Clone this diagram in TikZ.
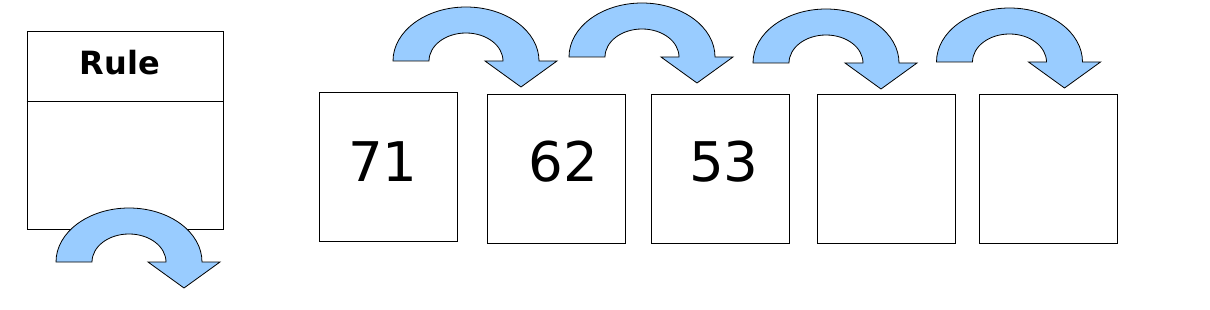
\documentclass[tikz,border=0pt]{standalone}
\usepackage{fontspec}
\setmainfont{DejaVu Sans}
\definecolor{ArrowBlue}{HTML}{99CCFF}
\tikzset{
  cellbox/.style={draw=black, line width=0.75pt, minimum width=103.5pt,
                  minimum height=111pt, inner sep=0pt},
  rulebox/.style={draw=black, line width=0.75pt, minimum width=147pt,
                  minimum height=147.75pt, inner sep=0pt},
  numtext/.style={font=\fontsize{41}{41}\selectfont, inner sep=0pt},
  ruletext/.style={font=\fontsize{24}{24}\selectfont\bfseries, inner sep=0pt},
  bendarrow/.pic={
    \filldraw[draw=black, fill=ArrowBlue, line width=0.6pt, line join=miter]
      (-73,0) arc[start angle=180, end angle=360, x radius=73, y radius=54]
      -- (91,0) -- (55,26) -- (19,0) -- (37,0)
      arc[start angle=360, end angle=180, x radius=37, y radius=28] -- cycle;
  }
}

\begin{document}
\begin{tikzpicture}[x=0.75pt, y=-0.75pt]
\useasboundingbox (0,0) rectangle (1210,310);
\node[rulebox] (rule) at (125,130.5) {};
\draw[line width=0.75pt] ([yshift=-52.5pt]rule.north west) -- ([yshift=-52.5pt]rule.north east);
\node[ruletext] (ruletitle) at (120,63) {Rule};
\node[cellbox] (c1) at (388,167) {};
\node[cellbox] (c2) at (556,169) {};
\node[cellbox] (c3) at (720.5,169) {};
\node[cellbox] (c4) at (886,169) {};
\node[cellbox] (c5) at (1048,169) {};
\node[numtext] (v1) at (383,162) {71};
\node[numtext] (v2) at (563.5,162) {62};
\node[numtext] (v3) at (724,162) {53};
\pic (a1) at (466,61) {bendarrow};
\pic (a2) at (642,57) {bendarrow};
\pic (a3) at (826,63) {bendarrow};
\pic (a4) at (1009.5,62) {bendarrow};
\pic (a0) at (129,262) {bendarrow};
\end{tikzpicture}
\end{document}
